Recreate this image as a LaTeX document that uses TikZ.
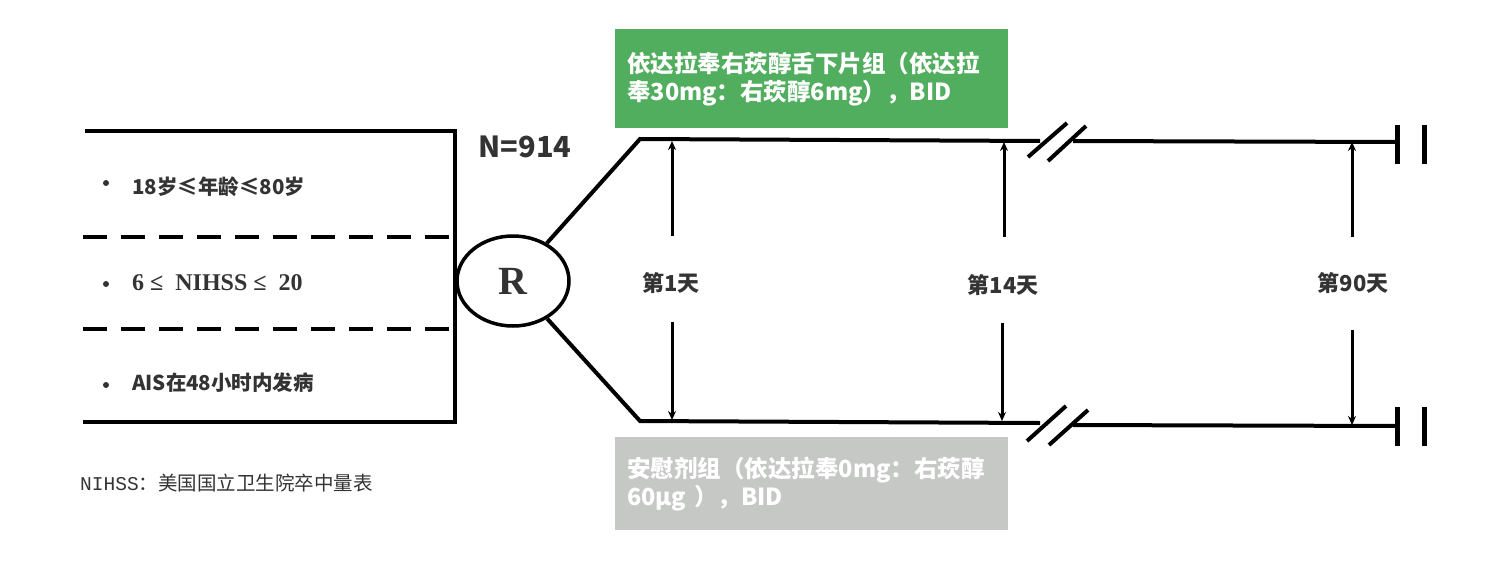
\documentclass[tikz,border=0pt]{standalone}
\usepackage{fontspec}
\setmainfont{Liberation Serif}
\newfontfamily\cjk{Noto Sans CJK SC}
\newfontfamily\cjkmono{Liberation Mono}
\usetikzlibrary{arrows.meta,shapes.geometric}
\definecolor{boxgreen}{HTML}{52AE5F}
\definecolor{boxgray}{HTML}{C6C8C6}
\definecolor{txt}{HTML}{333333}
\begin{document}
\begin{tikzpicture}[x=1pt,y=-1pt,
  thick line/.style={line width=4pt},
  dashline/.style={line width=4pt,dash pattern=on 24pt off 14pt},
  tick/.style={line width=3pt,-{Stealth[length=9pt,width=8pt]}},
  crit/.style={anchor=west,text=txt,font=\cjk\bfseries\fontsize{20.5}{24}\selectfont,inner sep=0pt},
  bul/.style={circle,fill=txt,inner sep=0pt,minimum size=6pt},
  daylbl/.style={text=txt,font=\cjk\bfseries\fontsize{22}{24}\selectfont,inner sep=0pt},
  armbox/.style={anchor=north west,minimum width=393pt,text width=369pt,align=left,inner xsep=12pt,text=white,font=\cjk\bfseries\fontsize{23.5}{28}\selectfont}
]
\useasboundingbox (0,0) rectangle (1490,570);
% inclusion box
\coordinate (bTL) at (85,131);
\coordinate (bTR) at (455,131);
\coordinate (bBL) at (83,422);
\coordinate (bBR) at (455,422);
\coordinate (d1L) at (83,237); \coordinate (d1R) at (455,237);
\coordinate (d2L) at (83,329); \coordinate (d2R) at (455,329);
\draw[thick line] (bTL) -- (bTR) -- (bBR) -- (bBL);
\draw[dashline] (d1L) -- (d1R);
\draw[dashline] (d2L) -- (d2R);
% criteria
\node[bul] (b1) at (106,183) {};
\node[bul] (b2) at (106,284) {};
\node[bul] (b3) at (106,385) {};
\node[crit] (c1) at (132,187) {18岁≤年龄≤80岁};
\node[anchor=west,inner sep=0pt,text=txt,font=\bfseries\fontsize{24}{26}\selectfont] (c2) at (132,283) {6 ≤ \ NIHSS ≤ \ 20};
\node[crit] (c3) at (132,383) {AIS在48小时内发病};
% N
\node[text=txt,font=\cjk\bfseries\fontsize{29}{32}\selectfont,inner sep=0pt] (N) at (525,147) {N=914};
% randomisation
\node[ellipse,draw,line width=3.5pt,minimum width=112pt,minimum height=90pt,inner sep=0pt,
      font=\bfseries\fontsize{40}{42}\selectfont,text=txt] (R) at (513,281) {R};
% arm lines
\coordinate (u0) at (640,139);
\coordinate (u1) at (1040,141);
\coordinate (u2) at (1073,141);
\coordinate (u3) at (1397,142);
\coordinate (l0) at (640,421);
\coordinate (l1) at (1040,423);
\coordinate (l2) at (1073,425);
\coordinate (l3) at (1397,426);
\draw[thick line] (R) -- (u0) -- (u1);
\draw[thick line] (u2) -- (u3);
\draw[thick line] (R) -- (l0) -- (l1);
\draw[thick line] (l2) -- (l3);
% breaks
\draw[thick line] (1028,157) -- (1067,123);
\draw[thick line] (1048,161) -- (1086,126);
\draw[thick line] (1027,441) -- (1066,406);
\draw[thick line] (1049,445) -- (1088,410);
% end bars
\draw[line width=5pt] (1397,125) -- (1397,164);
\draw[line width=5pt] (1424,125) -- (1424,164);
\draw[line width=5pt] (1397,407) -- (1397,446);
\draw[line width=5pt] (1424,407) -- (1424,446);
% time points
\node[daylbl] (t1) at (671,283) {第1天};
\node[daylbl] (t14) at (1003,285) {第14天};
\node[daylbl] (t90) at (1353,283) {第90天};
\coordinate (a1u) at (672,236); \coordinate (a1ut) at (672,141);
\coordinate (a1d) at (672,322); \coordinate (a1dt) at (672,420);
\coordinate (a2u) at (1004,237); \coordinate (a2ut) at (1004,142);
\coordinate (a2d) at (1002,323); \coordinate (a2dt) at (1002,421);
\coordinate (a3u) at (1352,237); \coordinate (a3ut) at (1352,142);
\coordinate (a3d) at (1352,330); \coordinate (a3dt) at (1352,425);
\draw[tick] (a1u) -- (a1ut);
\draw[tick] (a1d) -- (a1dt);
\draw[tick] (a2u) -- (a2ut);
\draw[tick] (a2d) -- (a2dt);
\draw[tick] (a3u) -- (a3ut);
\draw[tick] (a3d) -- (a3dt);
% arm boxes
\node[armbox,fill=boxgreen,minimum height=99pt] (g) at (615,29)
  {依达拉奉右莰醇舌下片组（依达拉\\奉30mg：右莰醇6mg），BID};
\node[armbox,fill=boxgray,minimum height=93pt] (p) at (615,437)
  {安慰剂组（依达拉奉0mg：右莰醇\\60μg ），BID};
% footnote
\node[anchor=west,inner sep=0pt,text=txt,font=\fontsize{19.5}{22}\selectfont] (fn) at (80,483)
  {{\cjkmono NIHSS}{\cjk ：美国国立卫生院卒中量表}};
\end{tikzpicture}
\end{document}
